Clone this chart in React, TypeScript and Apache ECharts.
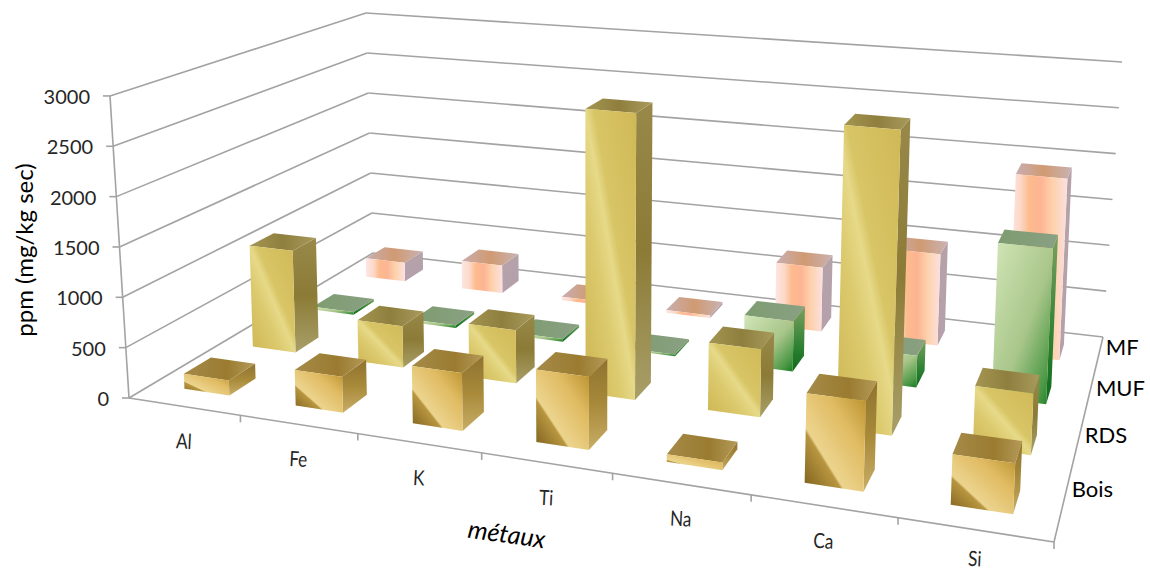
import React, { useEffect, useRef } from "react";
import * as echarts from "echarts";

const categories = ["Al", "Fe", "K", "Ti", "Na", "Ca", "Si"];
const rowNames = ["Bois", "RDS", "MUF", "MF"];
const yTicks = [0, 500, 1000, 1500, 2000, 2500, 3000];
const bois = [150, 350, 550, 680, 70, 800, 440];
const rds = [1080, 430, 540, 2850, 660, 2900, 570];
const muf = [30, 30, 30, 20, 520, 320, 1540];
const mf = [220, 320, 40, 30, 700, 980, 1910];

const yMax = 3000;
const BAR_W = 0.41;
const BAR_D = 0.38;
const BAR_LEAN = 0.7;

// floor of the 3D box: [front-left, front-right, back-right, back-left]
const floorQuad = [[129, 398], [1054, 542], [1103, 337], [373, 253]];
// vanishing point of the vertical direction
const VP = [591, 7738];
// depth model of the height scale, fitted to the three visible wall corners
const DEPTH = { a: 24.3, b: -4.28, c: 6.89 };

function homography(q: number[][]) {
  const [[x0, y0], [x1, y1], [x2, y2], [x3, y3]] = q;
  const dx1 = x1 - x2, dx2 = x3 - x2, sx = x0 - x1 + x2 - x3;
  const dy1 = y1 - y2, dy2 = y3 - y2, sy = y0 - y1 + y2 - y3;
  const det = dx1 * dy2 - dx2 * dy1;
  const g = (sx * dy2 - dx2 * sy) / det;
  const h = (dx1 * sy - sx * dy1) / det;
  const a = x1 - x0 + g * x1, b = x3 - x0 + h * x3, c = x0;
  const d = y1 - y0 + g * y1, e = y3 - y0 + h * y3, f = y0;
  return (u: number, v: number) => {
    const w = g * u + h * v + 1;
    return [(a * u + b * v + c) / w, (d * u + e * v + f) / w];
  };
}
const floorH = homography(floorQuad);
function proj(u: number, v: number, z: number, lean = 1) {
  const p = floorH(u, v);
  const t = (z / yMax) / (DEPTH.a + DEPTH.b * u + DEPTH.c * v);
  return [p[0] + (p[0] - VP[0]) * t * lean, p[1] + (p[1] - VP[1]) * t];
}

const lg = (x: number, y: number, x2: number, y2: number, stops: [number, string][]) =>
  new echarts.graphic.LinearGradient(x, y, x2, y2, stops.map(([offset, color]) => ({ offset, color })));

const styles: Record<string, any> = {
  Bois: {
    front: () => lg(0, 1, 1, 0, [[0, "#7a5e1c"], [0.31, "#b89640"], [0.335, "#ecd48e"], [0.68, "#e0bb62"], [1, "#b88f2c"]]),
    side: () => lg(0, 0, 0, 1, [[0, "#8f7230"], [0.5, "#a88a3a"], [1, "#c8ad66"]]),
    top: () => lg(0, 0, 1, 0, [[0, "#a58a48"], [0.6, "#9a7b30"], [1, "#b49a58"]]),
  },
  RDS: {
    front: () => lg(0, 1, 1, 0, [[0, "#cdb552"], [0.35, "#dcca6e"], [0.5, "#e6d988"], [0.58, "#d8c566"], [1, "#d0b856"]]),
    side: () => lg(0, 0, 0, 1, [[0, "#98894a"], [0.5, "#8c7b36"], [1, "#a89f68"]]),
    top: () => lg(0, 0, 1, 0, [[0, "#a59552"], [0.5, "#8e7f3e"], [1, "#a89a5c"]]),
  },
  MUF: {
    front: () => lg(0, 0, 1, 1, [[0, "#d2e6b8"], [0.55, "#a9c68a"], [0.85, "#4f9a48"], [1, "#177a1f"]]),
    side: () => lg(0, 0, 0, 1, [[0, "#7ba060"], [0.6, "#2f8234"], [1, "#0e6a18"]]),
    top: () => lg(0, 0, 1, 0, [[0, "#7d9c6f"], [1, "#8aa083"]]),
  },
  MF: {
    front: () => lg(0, 0, 1, 0, [[0, "#fde6e2"], [0.2, "#fcd8c8"], [0.35, "#fdbb8c"], [0.55, "#fdb494"], [0.75, "#fdd2ac"], [1, "#fce0e0"]]),
    side: () => lg(0, 0, 0, 1, [[0, "#b5a2a8"], [1, "#b5a0ac"]]),
    top: () => lg(0, 0, 1, 0, [[0, "#c9aeb0"], [0.5, "#d09a72"], [1, "#c9b2b2"]]),
  },
};

function barSeries(name: string, values: number[], row: number) {
  return {
    type: "custom",
    name,
    coordinateSystem: "none",
    silent: true,
    data: values.map((v, i) => [i, v]),
    renderItem: (_: any, api: any) => {
      const cat = api.value(0), val = api.value(1);
      const u0 = (cat + 0.5 - BAR_W / 2) / categories.length;
      const u1 = (cat + 0.5 + BAR_W / 2) / categories.length;
      const v0 = (row + 0.5 - BAR_D / 2) / rowNames.length;
      const v1 = (row + 0.5 + BAR_D / 2) / rowNames.length;
      const a0 = proj(u0, v0, 0), b0 = proj(u1, v0, 0), c0 = proj(u1, v1, 0);
      const a1 = proj(u0, v0, val, BAR_LEAN), b1 = proj(u1, v0, val, BAR_LEAN);
      const c1 = proj(u1, v1, val, BAR_LEAN), d1 = proj(u0, v1, val, BAR_LEAN);
      const s = styles[name];
      return {
        type: "group",
        children: [
          { type: "polygon", shape: { points: [b0, c0, c1, b1] }, style: { fill: s.side() } },
          { type: "polygon", shape: { points: [a1, b1, c1, d1] }, style: { fill: s.top() } },
          { type: "polygon", shape: { points: [a0, b0, b1, a1] }, style: { fill: s.front() } },
        ],
      };
    },
  };
}

const lineStyle = { stroke: "#a3a3a3", lineWidth: 1.6 };
const line = (p: number[], q: number[]) => ({
  type: "line",
  shape: { x1: p[0], y1: p[1], x2: q[0], y2: q[1] },
  style: lineStyle,
});

const wallSeries = {
  type: "custom",
  coordinateSystem: "none",
  silent: true,
  data: yTicks.map((t) => [t]),
  renderItem: (_: any, api: any) => {
    const t = api.value(0);
    const fl = proj(0, 0, t), bl = proj(0, 1, t), br = proj(1, 1, t);
    return {
      type: "group",
      children: [
        line(fl, bl),
        line(bl, br),
        line([fl[0] - 7, fl[1]], fl),
        {
          type: "text",
          x: fl[0] - 20,
          y: fl[1],
          style: { text: String(t), font: "20px Lato", fill: "#262626", align: "right", verticalAlign: "middle" },
        },
      ],
    };
  },
};

const boxSeries = {
  type: "custom",
  coordinateSystem: "none",
  silent: true,
  data: [[0]],
  renderItem: () => ({
    type: "group",
    children: [
      line(proj(0, 0, 0), proj(0, 0, yMax)),
      line(proj(0, 0, 0), proj(1, 0, 0)),
      line(proj(1, 0, 0), proj(1, 1, 0)),
      line(proj(1, 0, 0), [proj(1, 0, 0)[0], proj(1, 0, 0)[1] + 7]),
    ],
  }),
};

const catSeries = {
  type: "custom",
  coordinateSystem: "none",
  silent: true,
  data: categories.map((_, i) => [i]),
  renderItem: (_: any, api: any) => {
    const i = api.value(0);
    const tick = proj((i + 1) / categories.length, 0, 0);
    const mid = proj((i + 0.5) / categories.length, 0, 0);
    return {
      type: "group",
      children: [
        ...(i < categories.length - 1 ? [line(tick, [tick[0], tick[1] + 7])] : []),
        {
          type: "text",
          x: mid[0],
          y: Math.min(mid[1] + 34, 558),
          scaleX: 0.82,
          rotation: -0.05,
          style: { text: categories[i], font: "21px Lato", fill: "#262626", align: "center", verticalAlign: "middle" },
        },
      ],
    };
  },
};

const rowSeries = {
  type: "custom",
  coordinateSystem: "none",
  silent: true,
  data: rowNames.map((_, i) => [i]),
  renderItem: (_: any, api: any) => {
    const i = api.value(0);
    const p = proj(1, (i + 0.85) / 4.1, 0);
    return {
      type: "text",
      x: p[0] + 5,
      y: p[1],
      style: { text: rowNames[i], font: "22px Lato", fill: "#000", align: "left", verticalAlign: "middle" },
    };
  },
};

const titles = [
  { type: "text", x: 23, y: 250, rotation: Math.PI / 2, style: { text: "ppm (mg/kg sec)", font: "24px Lato", fill: "#000", align: "center", verticalAlign: "middle" } },
  { type: "text", x: 507, y: 533, rotation: -0.14, style: { text: "métaux", font: "italic 25px Lato", fill: "#000", align: "center", verticalAlign: "middle" } },
];

export default function App() {
  const ref = useRef<HTMLDivElement>(null);
  useEffect(() => {
    const chart = echarts.init(ref.current!, undefined, { renderer: "svg" });
    chart.setOption({
      animation: false,
      backgroundColor: "#fff",
      graphic: titles,
      series: [
        wallSeries,
        boxSeries,
        catSeries,
        rowSeries,
        barSeries("MF", mf, 3),
        barSeries("MUF", muf, 2),
        barSeries("RDS", rds, 1),
        barSeries("Bois", bois, 0),
      ],
    });
    return () => chart.dispose();
  }, []);
  return <div ref={ref} style={{ position: "fixed", left: 0, top: 0, width: 1150, height: 571 }} />;
}
